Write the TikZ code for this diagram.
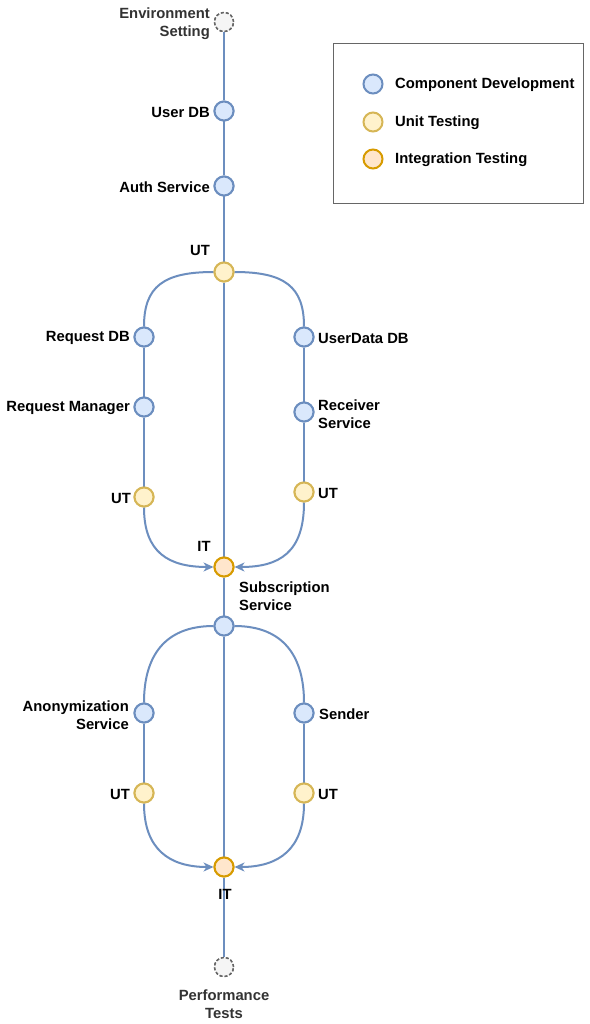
\documentclass[tikz,border=0pt]{standalone}
\usepackage{fontspec}
\setmainfont{Liberation Sans}
\usetikzlibrary{arrows.meta}
\definecolor{cdfill}{HTML}{DAE8FC}
\definecolor{cdline}{HTML}{6C8EBF}
\definecolor{utfill}{HTML}{FFF2CC}
\definecolor{utline}{HTML}{D6B656}
\definecolor{itfill}{HTML}{FFE6CC}
\definecolor{itline}{HTML}{D79B00}
\definecolor{exfill}{HTML}{F5F5F5}
\definecolor{exline}{HTML}{666666}
\definecolor{txtgray}{HTML}{333333}
\tikzset{
  dot/.style={circle, minimum size=19pt, inner sep=0pt, line width=2pt},
  cd/.style={dot, draw=cdline, fill=cdfill},
  utn/.style={dot, draw=utline, fill=utfill},
  itn/.style={dot, draw=itline, fill=itfill},
  ext/.style={dot, draw=exline, fill=exfill, dash pattern=on 3pt off 2pt, line width=1.5pt},
  lbl/.style={font=\bfseries\fontsize{14.8}{18}\selectfont, inner sep=0pt, yshift=-1pt},
  conn/.style={draw=cdline, line width=2pt},
  arr/.style={conn, -{Stealth[length=10pt,width=9pt,inset=3pt]}},
}
\begin{document}
\begin{tikzpicture}[x=1pt,y=-1pt]
\useasboundingbox[fill=white] (0,0) rectangle (589,1024);
% legend
\node[draw=exline, line width=1.2pt, minimum width=250pt, minimum height=160pt, anchor=north west] (legend) at (333,43) {};
\node[cd] (lg1) at (373,84) {};
\node[utn] (lg2) at (373,122) {};
\node[itn] (lg3) at (373,159) {};
\node[lbl, anchor=west] (lt1) at (395,84) {Component Development};
\node[lbl, anchor=west] (lt2) at (395,122) {Unit Testing};
\node[lbl, anchor=west] (lt3) at (395,159) {Integration Testing};
% nodes
\node[ext] (env) at (224,22) {};
\node[cd] (udb) at (224,111) {};
\node[cd] (auth) at (224,186) {};
\node[utn] (ut1) at (224,272) {};
\node[cd] (rdb) at (144,337) {};
\node[cd] (uddb) at (304,337) {};
\node[cd] (rman) at (144,407) {};
\node[cd] (recv) at (304,412) {};
\node[utn] (utl) at (144,497) {};
\node[utn] (utr) at (304,492) {};
\node[itn] (it1) at (224,567) {};
\node[cd] (subs) at (224,626) {};
\node[cd] (anon) at (144,713) {};
\node[cd] (send) at (304,713) {};
\node[utn] (utl2) at (144,793) {};
\node[utn] (utr2) at (304,793) {};
\node[itn] (it2) at (224,867) {};
\node[ext] (perf) at (224,967) {};
% connectors
\path[conn] (env) -- (udb);
\path[conn] (udb) -- (auth);
\path[conn] (auth) -- (ut1);
\path[conn] (ut1) -- (it1);
\path[conn] (ut1.west) .. controls +(-50,0) and +(0,-40) .. (rdb.north);
\path[conn] (ut1.east) .. controls +(50,0) and +(0,-40) .. (uddb.north);
\path[conn] (rdb) -- (rman);
\path[conn] (rman) -- (utl);
\path[conn] (uddb) -- (recv);
\path[conn] (recv) -- (utr);
\path[arr] (utl.south) .. controls +(0,45) and +(-45,0) .. (it1.west);
\path[arr] (utr.south) .. controls +(0,50) and +(45,0) .. (it1.east);
\path[conn] (it1) -- (subs);
\path[conn] (subs) -- (it2);
\path[conn] (subs.west) .. controls +(-50,0) and +(0,-45) .. (anon.north);
\path[conn] (subs.east) .. controls +(50,0) and +(0,-45) .. (send.north);
\path[conn] (anon) -- (utl2);
\path[conn] (send) -- (utr2);
\path[arr] (utl2.south) .. controls +(0,45) and +(-45,0) .. (it2.west);
\path[arr] (utr2.south) .. controls +(0,45) and +(45,0) .. (it2.east);
\path[conn] (it2) -- (perf);
% redraw nodes on top
\foreach \n/\s in {env/ext,udb/cd,auth/cd,ut1/utn,rdb/cd,uddb/cd,rman/cd,recv/cd,utl/utn,utr/utn,it1/itn,subs/cd,anon/cd,send/cd,utl2/utn,utr2/utn,it2/itn,perf/ext}
  \node[\s] at (\n.center) {};
% labels
\node[lbl, text=txtgray, align=right, anchor=east] (tenv) at (210,23) {Environment\\Setting};
\node[lbl, anchor=east] (tudb) at (210,111) {User DB};
\node[lbl, anchor=east] (tauth) at (210,186) {Auth Service};
\node[lbl] (tut1) at (200,249) {UT};
\node[lbl, anchor=east] (trdb) at (130,337) {Request DB};
\node[lbl, anchor=west] (tuddb) at (318,337) {UserData DB};
\node[lbl, anchor=east] (trman) at (130,407) {Request Manager};
\node[lbl, anchor=west, align=left] (trecv) at (318,413) {Receiver\\Service};
\node[lbl, anchor=east] (tutl) at (131,497) {UT};
\node[lbl, anchor=west] (tutr) at (318,492) {UT};
\node[lbl] (tit1) at (204,545) {IT};
\node[lbl, anchor=west, align=left] (tsubs) at (239,595) {Subscription\\Service};
\node[lbl, anchor=east, align=right] (tanon) at (129,714) {Anonymization\\Service};
\node[lbl, anchor=west] (tsend) at (319,713) {Sender};
\node[lbl, anchor=east] (tutl2) at (130,793) {UT};
\node[lbl, anchor=west] (tutr2) at (318,793) {UT};
\node[lbl] (tit2) at (225,893) {IT};
\node[lbl, text=txtgray, align=center] (tperf) at (224,1003) {Performance\\Tests};
\end{tikzpicture}
\end{document}
